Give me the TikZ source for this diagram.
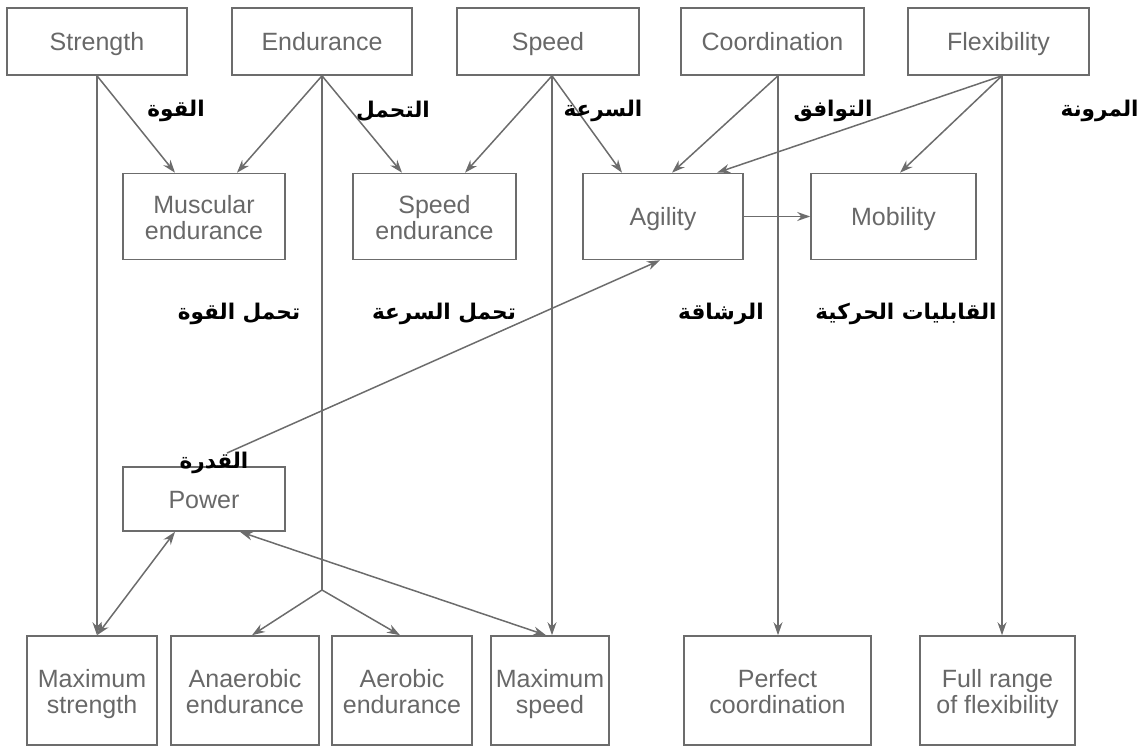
\documentclass[tikz,border=0pt]{standalone}
\usepackage{fontspec}
\setmainfont{Liberation Sans}
\newfontfamily\arabicfont[Script=Arabic]{DejaVu Sans}
\TeXXeTstate=1
\usetikzlibrary{arrows.meta,calc}
\definecolor{ln}{HTML}{6C6C6C}
\definecolor{tx}{HTML}{686868}
\newcommand{\twol}[2]{\rule{0pt}{11pt}#1\\\raisebox{0pt}[\height][0pt]{#2}\rule[-1pt]{0pt}{1pt}}
\begin{document}
\begin{tikzpicture}[x=0.5pt,y=-0.5pt,
  box/.style={draw=ln, line width=0.8pt, text=tx, align=center, inner sep=0pt,
    font=\fontsize{12.5}{12.8}\selectfont},
  box1/.style={box, text height=9pt, text depth=0pt},
  con/.style={draw=ln, line width=0.75pt, -{Stealth[length=6.5pt,width=4.5pt]}},
  bicon/.style={draw=ln, line width=0.75pt, {Stealth[length=6.5pt,width=4.5pt]}-{Stealth[length=6.5pt,width=4.5pt]}},
  plain/.style={draw=ln, line width=0.75pt},
  ar/.style={text=black, inner sep=0pt, font=\arabicfont\bfseries\fontsize{10.8}{12}\selectfont}]
\useasboundingbox (0,0) rectangle (1141,749);
% top row
\node[box1, minimum width=90pt, minimum height=33.5pt] (strength) at (97,41.5) {Strength};
\node[box1, minimum width=90pt, minimum height=33.5pt] (endurance) at (322,41.5) {Endurance};
\node[box1, minimum width=91pt, minimum height=33.5pt] (speed) at (548,41.5) {Speed};
\node[box1, minimum width=91.5pt, minimum height=33.5pt] (coord) at (772.5,41.5) {Coordination};
\node[box1, minimum width=90.5pt, minimum height=33.5pt] (flex) at (998.5,41.5) {Flexibility};
% middle row
\node[box, minimum width=81pt, minimum height=43pt] (muscular) at (204,216.5) {\twol{Muscular}{endurance}};
\node[box, minimum width=81.5pt, minimum height=43pt] (speedend) at (434.5,216.5) {\twol{Speed}{endurance}};
\node[box1, minimum width=80pt, minimum height=43pt] (agility) at (663,216.5) {Agility};
\node[box1, minimum width=82.5pt, minimum height=43pt] (mobility) at (893.5,216.5) {Mobility};
\node[box1, minimum width=81pt, minimum height=32pt] (power) at (204,499) {Power};
% bottom row
\node[box, minimum width=65pt, minimum height=54.5pt] (maxstr) at (92,690.5) {\twol{Maximum}{strength}};
\node[box, minimum width=74pt, minimum height=54.5pt] (anaer) at (245,690.5) {\twol{Anaerobic}{endurance}};
\node[box, minimum width=70pt, minimum height=54.5pt] (aer) at (402,690.5) {\twol{Aerobic}{endurance}};
\node[box, minimum width=59pt, minimum height=54.5pt] (maxspeed) at (550,690.5) {\twol{Maximum}{speed}};
\node[box, minimum width=93.5pt, minimum height=54.5pt] (perfect) at (777.5,690.5) {\twol{Perfect}{coordination}};
\node[box, minimum width=77.5pt, minimum height=54.5pt] (fullrange) at (997.5,690.5) {\twol{Full range}{of flexibility}};
% source points
\coordinate (sS) at (strength.south);
\coordinate (sE) at (endurance.south);
\coordinate (sP) at ([xshift=2pt]speed.south);
\coordinate (sC) at ([xshift=2.75pt]coord.south);
\coordinate (sF) at ([xshift=1.75pt]flex.south);
\coordinate (junc) at (322,590);
\coordinate (powfree) at (227,453);
% connectors
\draw[con] (sS) -- ([xshift=-14.5pt]muscular.north);
\draw[con] (sS) -- (sS |- maxstr.north);
\draw[con] (sE) -- ([xshift=16.5pt]muscular.north);
\draw[con] (sE) -- ([xshift=-16.25pt]speedend.north);
\draw[plain] (sE) -- (junc);
\draw[con] (junc) -- ([xshift=3.5pt]anaer.north);
\draw[con] (junc) -- ([xshift=-1pt]aer.north);
\draw[con] (sP) -- ([xshift=15.25pt]speedend.north);
\draw[con] (sP) -- ([xshift=-20.5pt]agility.north);
\draw[con] (sP) -- (sP |- maxspeed.north);
\draw[con] (sC) -- ([xshift=4.5pt]agility.north);
\draw[con] (sC) -- (sC |- perfect.north);
\draw[con] (sF) -- ([xshift=27pt]agility.north);
\draw[con] (sF) -- ([xshift=3.25pt]mobility.north);
\draw[con] (sF) -- (sF |- fullrange.north);
\draw[con] (agility.east) -- (mobility.west);
\draw[con] (powfree) -- ([xshift=-1.5pt]agility.south);
\draw[bicon] ([xshift=-14.5pt]power.south) -- (sS |- maxstr.north);
\draw[bicon] ([xshift=18pt]power.south) -- ([xshift=-2pt]maxspeed.north);
% Arabic labels
\node[ar] (l1) at (176,111) {\beginR القوة\endR};
\node[ar] (l2) at (393,111) {\beginR التحمل\endR};
\node[ar] (l3) at (603,111) {\beginR السرعة\endR};
\node[ar] (l4) at (833,111) {\beginR التوافق\endR};
\node[ar, anchor=east] (l5) at (1139,111) {\beginR المرونة\endR};
\node[ar] (l6) at (239,314) {\beginR تحمل القوة\endR};
\node[ar] (l7) at (444,314) {\beginR تحمل السرعة\endR};
\node[ar] (l8) at (721,314) {\beginR الرشاقة\endR};
\node[ar] (l9) at (906,314) {\beginR القابليات الحركية\endR};
\node[ar] (l10) at (214,463) {\beginR القدرة\endR};
\end{tikzpicture}
\end{document}
